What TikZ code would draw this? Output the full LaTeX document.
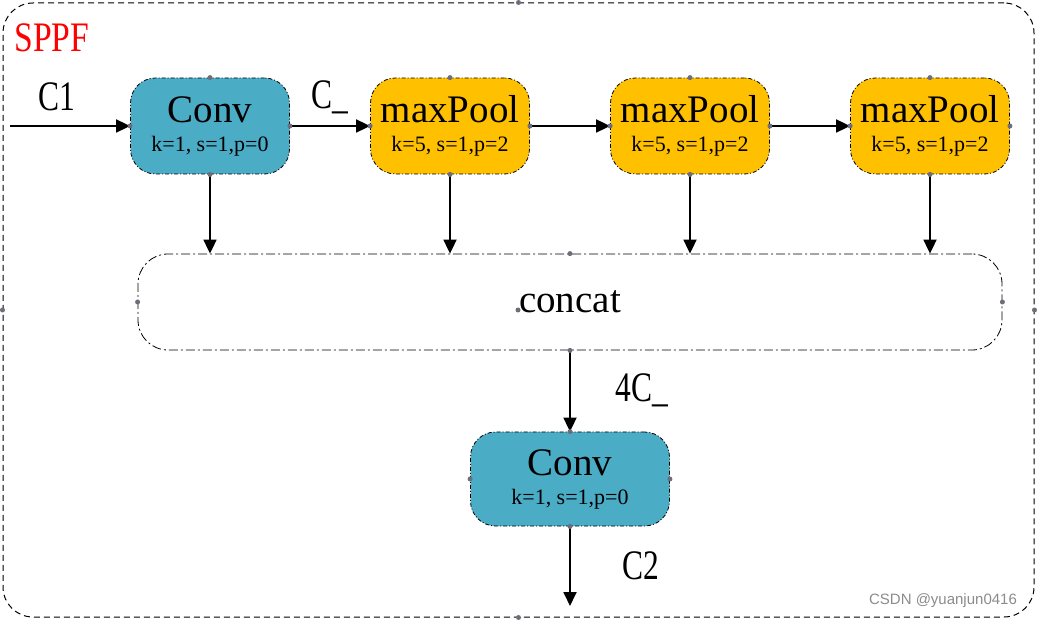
\documentclass[tikz,border=0pt]{standalone}
\usepackage{fontspec}
\setmainfont{Liberation Serif}
\newfontfamily\wmfont{Liberation Sans}
\usetikzlibrary{arrows.meta}
\definecolor{convblue}{HTML}{4BACC6}
\definecolor{poolgold}{HTML}{FFC000}
\definecolor{handle}{HTML}{6E6E7A}
\tikzset{
  blk/.style={draw=black, line width=0.8pt, dash pattern=on 4pt off 2pt on 1pt off 2pt, rounded corners=25pt,
    minimum width=159pt, minimum height=96pt, inner sep=0pt, align=center, font=\fontsize{22}{29}\selectfont},
  convbox/.style={blk, fill=convblue},
  poolbox/.style={blk, fill=poolgold},
  arr/.style={line width=1.8pt, -{Triangle[length=14pt,width=13pt]}},
  lbl/.style={font=\fontsize{42}{42}\selectfont, inner sep=0pt},
  dot/.style={circle, fill=handle, inner sep=0pt, minimum size=5pt},
}
\newcommand{\blabel}[2]{{\fontsize{39}{39}\selectfont #1}\\{\fontsize{22}{29}\selectfont #2}}
\begin{document}
\begin{tikzpicture}[x=1pt,y=-1pt]
\useasboundingbox (0,0) rectangle (1037,620);
\fill[white] (0,0) rectangle (1037,620);
% outer frame
\node[draw=black, line width=1pt, dash pattern=on 6pt off 4pt, rounded corners=30pt,
  minimum width=1031pt, minimum height=614pt, inner sep=0pt] (frame) at (518.5,310) {};
\node[text=red, inner sep=0pt] (title) at (52,38) {\scalebox{0.8}[1]{\fontsize{42}{42}\selectfont SPPF}};
% nodes
\node[convbox] (conv1) at (210,126) {\blabel{Conv}{k=1, s=1,p=0}};
\node[poolbox] (pool1) at (450,126) {\blabel{maxPool}{k=5, s=1,p=2}};
\node[poolbox] (pool2) at (690,126) {\blabel{maxPool}{k=5, s=1,p=2}};
\node[poolbox] (pool3) at (930,126) {\blabel{maxPool}{k=5, s=1,p=2}};
\node[draw=black, line width=0.8pt, dash pattern=on 9pt off 3pt on 2pt off 3pt, rounded corners=30pt,
  minimum width=864pt, minimum height=96pt, inner sep=0pt, font=\fontsize{39}{39}\selectfont] (concat) at (570,302) {concat};
\node[convbox, minimum width=199pt, minimum height=94pt] (conv2) at (570,479) {\blabel{Conv}{k=1, s=1,p=0}};
% connectors
\coordinate (in) at (10,126);
\coordinate (out) at (570,606);
\draw[arr] (in) -- (conv1.west);
\draw[arr] (conv1.east) -- (pool1.west);
\draw[arr] (pool1.east) -- (pool2.west);
\draw[arr] (pool2.east) -- (pool3.west);
\draw[arr] (conv1.south) -- (conv1.south |- concat.north);
\draw[arr] (pool1.south) -- (pool1.south |- concat.north);
\draw[arr] (pool2.south) -- (pool2.south |- concat.north);
\draw[arr] (pool3.south) -- (pool3.south |- concat.north);
\draw[arr] (concat.south) -- (conv2.north);
\draw[arr] (conv2.south) -- (out);
% labels
\node[lbl] (lc1) at (57,97) {\scalebox{0.75}[1]{C1}};
\node[lbl] (lc) at (330,97) {\scalebox{0.75}[1]{C\_}};
\node[lbl] (l4c) at (642,390) {\scalebox{0.75}[1]{4C\_}};
\node[lbl] (lc2) at (641,566) {\scalebox{0.75}[1]{C2}};
% handle dots
\foreach \n in {conv1,pool1,pool2,pool3,conv2} {
  \node[dot] at (\n.north) {};
  \node[dot] at (\n.south) {};
  \node[dot] at (\n.east) {};
  \node[dot] at (\n.west) {};
}
\node[dot] at (concat.west) {};
\node[dot] at (concat.east) {};
\node[dot] at (concat.south) {};
\node[dot] at (concat.north) {};
\node[dot] at (518,310) {};
\node[dot] at (frame.north) {};
\node[dot] at (frame.south) {};
\node[dot] at (frame.east) {};
\node[dot] at (frame.west) {};
% watermark
\node[text=black!45, font=\wmfont\fontsize{15}{15}\selectfont, inner sep=0pt] (wm) at (943,601) {CSDN @yuanjun0416};
\end{tikzpicture}
\end{document}
